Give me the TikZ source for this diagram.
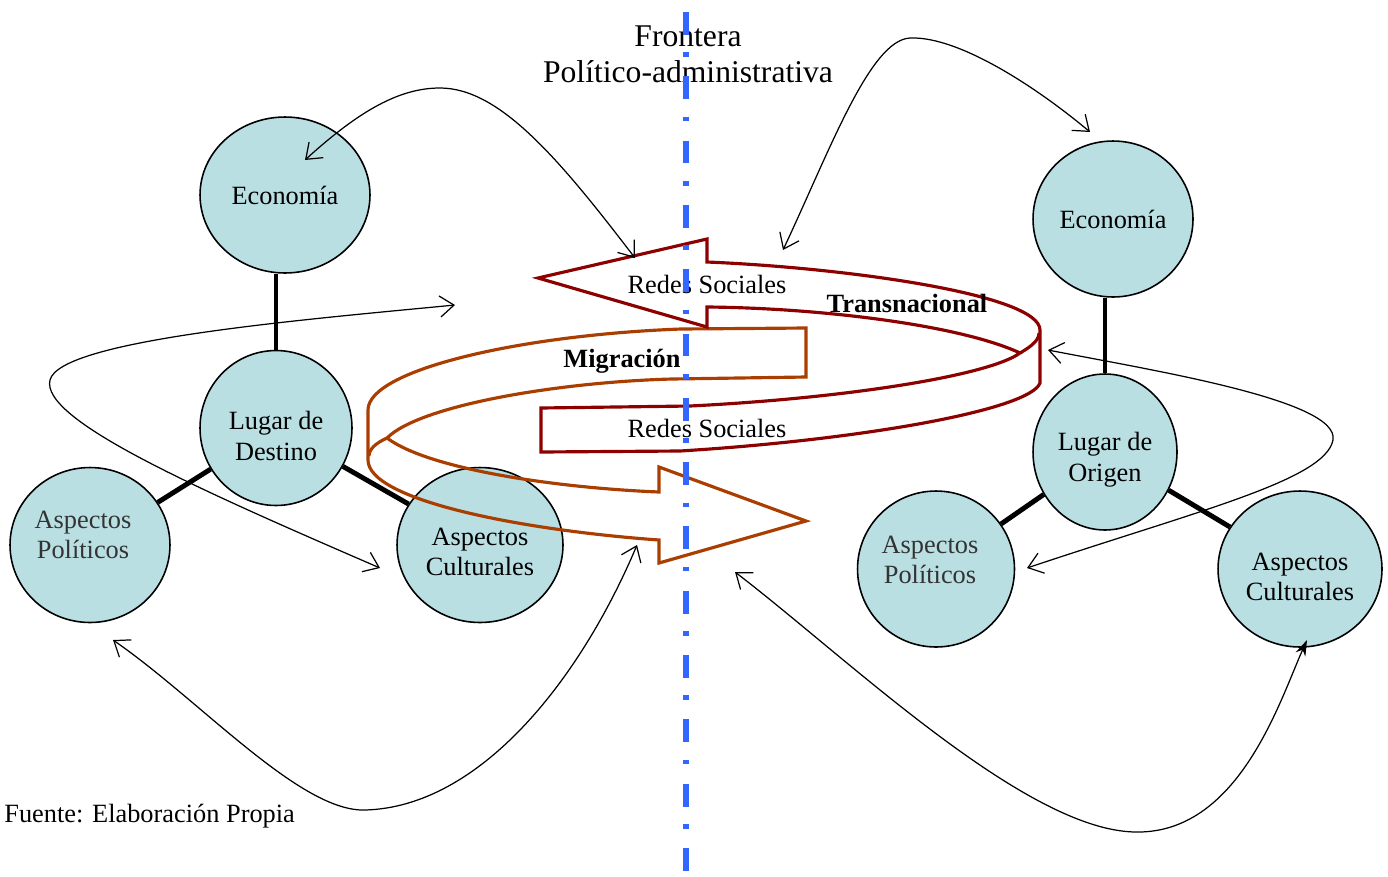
\documentclass[tikz,border=0pt]{standalone}
\usepackage{fontspec}
\setmainfont{Liberation Serif}
\usetikzlibrary{shapes.geometric, arrows.meta}

\definecolor{circulo}{RGB}{185,223,227}
\definecolor{rojoosc}{RGB}{140,0,0}
\definecolor{naranja}{RGB}{170,62,0}
\definecolor{azulfront}{RGB}{51,102,255}

\tikzset{
  esfera/.style={ellipse, draw=black, line width=0.9pt, fill=circulo, inner sep=0pt,
    align=center, font=\fontsize{15}{17.5}\selectfont},
  rotulo/.style={align=center, inner sep=0pt, font=\fontsize{15}{17.5}\selectfont},
  enlace/.style={line width=2.8pt},
  flujo/.style={<->, line width=0.7pt},
  banda/.style={line width=1.8pt, line join=miter},
  texto/.style={font=\fontsize{15}{17}\selectfont, inner sep=0pt}
}

\begin{document}
\begin{tikzpicture}[x=0.02cm, y=-0.02cm, >={Straight Barb[length=8pt,width=12pt]}]
        \useasboundingbox (0,0) rectangle (1388,876);

        % Lugar de destino (izquierda)
        \node[esfera, minimum width=3.4cm, minimum height=3.12cm] (ecoD) at (285,195) {Economía};
        \node[esfera, minimum width=3.04cm, minimum height=3.1cm,
            label={[rotulo, yshift=-0.16cm]center:Lugar de\\Destino}] (destino) at (276,428) {};
        \node[esfera, minimum width=3.2cm, minimum height=3.1cm,
            label={[rotulo, text=black!80, xshift=-0.14cm, yshift=0.2cm]center:Aspectos\\Políticos}] (polD) at (90,545) {};
        \node[esfera, minimum width=3.32cm, minimum height=3.1cm,
            label={[rotulo, yshift=-0.14cm]center:Aspectos\\Culturales}] (culD) at (480,545) {};

        % Lugar de origen (derecha)
        \node[esfera, minimum width=3.2cm, minimum height=3.12cm] (ecoO) at (1113,219) {Economía};
        \node[esfera, minimum width=2.88cm, minimum height=3.12cm,
            label={[rotulo, yshift=-0.16cm]center:Lugar de\\Origen}] (origen) at (1105,452) {};
        \node[esfera, minimum width=3.14cm, minimum height=3.12cm,
            label={[rotulo, text=black!80, xshift=-0.12cm, yshift=0.18cm]center:Aspectos\\Políticos}] (polO) at (936,569) {};
        \node[esfera, minimum width=3.28cm, minimum height=3.12cm,
            label={[rotulo, yshift=-0.16cm]center:Aspectos\\Culturales}] (culO) at (1300,569) {};

        % Enlaces gruesos
        \draw[enlace] (destino.north) -- (destino.north |- ecoD.south);
        \draw[enlace] (destino) -- (polD);
        \draw[enlace] (destino) -- (culD);
        \draw[enlace] (origen.north) -- (origen.north |- ecoO.south);
        \draw[enlace] (origen) -- (polO);
        \draw[enlace] (origen) -- (culO);

        % Flecha de la migracion (naranja)
        \draw[banda, draw=naranja] (806,328) -- (806,377) -- (672,379)
            .. controls (560,382) and (420,405) .. (387,438)
            .. controls (430,470) and (560,488) .. (659,492)
            -- (659,467) -- (806,521) -- (659,563) -- (659,540)
            .. controls (520,530) and (368,500) .. (368,460) -- (368,410)
            .. controls (368,370) and (520,335) .. (681,329) -- cycle;
        \draw[banda, draw=naranja] (387,438) .. controls (376,443) and (369,449) .. (369,456);

        % Flecha de las redes sociales (rojo oscuro)
        \draw[banda, draw=rojoosc] (538,278) -- (707,239) -- (707,262)
            .. controls (850,268) and (1040,295) .. (1040,330) -- (1040,383)
            .. controls (1030,410) and (860,440) .. (680,451) -- (541,452) -- (541,408)
            -- (690,406) .. controls (850,398) and (990,375) .. (1020,353)
            .. controls (960,325) and (820,308) .. (707,307) -- (707,327) -- cycle;
        \draw[banda, draw=rojoosc] (1020,353) .. controls (1032,346) and (1039,340) .. (1039,333);

        % Textos de las flechas
        \node[texto] (redes1) at (707,284) {Redes Sociales};
        \node[texto] (redes2) at (707,428) {Redes Sociales};
        \node[texto, font=\fontsize{15}{17}\selectfont\bfseries] (trans) at (907,303) {Transnacional};
        \node[texto, font=\fontsize{15}{17}\selectfont\bfseries] (migra) at (622,361) {Migración};

        % Extremos libres de las flechas curvas
        \coordinate (a1) at (305,160);
        \coordinate (a2) at (635,258);
        \coordinate (b1) at (783,250);
        \coordinate (b2) at (1090,132);
        \coordinate (c1) at (455,305);
        \coordinate (c2) at (380,568);
        \coordinate (d1) at (1048,350);
        \coordinate (d2) at (1027,568);
        \coordinate (e1) at (113,640);
        \coordinate (e2) at (637,545);
        \coordinate (f1) at (735,572);
        \coordinate (f2) at (1307,640);

        % Flechas curvas
        \draw[flujo] (a1) .. controls (360,110) and (400,88) .. (440,88)
            .. controls (500,88) and (560,160) .. (a2);
        \draw[flujo] (b1) .. controls (830,150) and (870,40) .. (910,38)
            .. controls (960,36) and (1040,90) .. (b2);
        \draw[flujo] (c1) .. controls (300,320) and (60,340) .. (50,380)
            .. controls (40,420) and (200,490) .. (c2);
        \draw[flujo] (d1) .. controls (1150,370) and (1340,400) .. (1333,440)
            .. controls (1325,480) and (1200,510) .. (d2);
        \draw[flujo] (e1) .. controls (200,700) and (300,812) .. (365,810)
            .. controls (480,807) and (580,680) .. (e2);
        \draw[line width=0.7pt, {Straight Barb[length=8pt,width=12pt]}-{Stealth[length=9pt,width=6pt]}]
            (f1) .. controls (850,660) and (1030,835) .. (1140,832)
            .. controls (1240,830) and (1280,700) .. (f2);

        % Titulo y fuente
        \node[font=\fontsize{18}{20.5}\selectfont, align=center, inner sep=0pt] (titulo) at (688,54) {Frontera\\Político-administrativa};
        \node[texto, anchor=west] (fuente) at (4,816) {Fuente: Elaboración Propia};

        % Frontera (linea punto-raya)
        \coordinate (fArriba) at (686,12);
        \coordinate (fAbajo) at (686,876);
        \draw[azulfront, line width=3.3pt, dash pattern=on 13pt off 10pt on 2.6pt off 11pt] (fArriba) -- (fAbajo);

\end{tikzpicture}
\end{document}
